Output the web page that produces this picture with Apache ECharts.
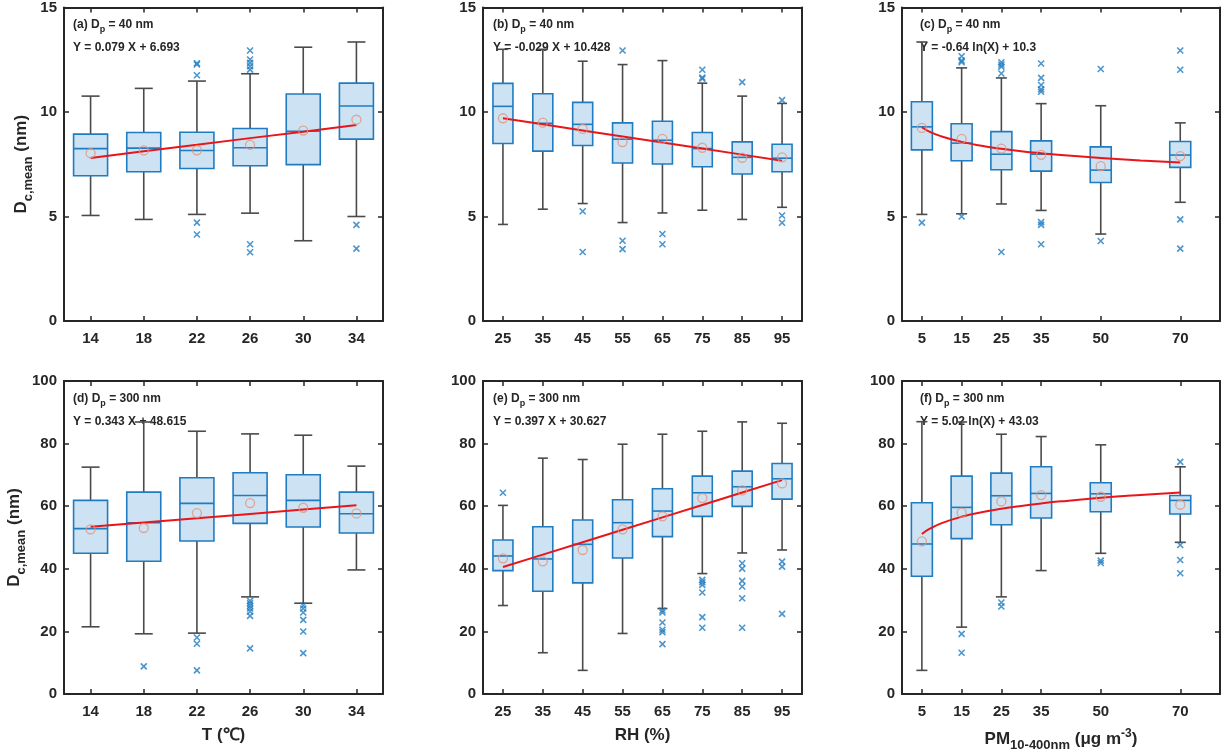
<!DOCTYPE html>
<html>
<head>
<meta charset="utf-8">
<script src="https://cdn.jsdelivr.net/npm/echarts@6/dist/echarts.min.js"></script>
<style>
html,body{margin:0;padding:0;background:#fff;}
#chart{width:1225px;height:756px;}
</style>
</head>
<body>
<div id="chart"></div>
<script>
// ---------- DATA ----------
const xT = [14, 18, 22, 26, 30, 34];
const xRH = [25, 35, 45, 55, 65, 75, 85, 95];
const xPM = [5, 15, 25, 35, 50, 70];
const fitPMx = [5, 7, 10, 15, 20, 25, 30, 35, 40, 50, 60, 70];

// (a) Dp = 40 nm vs T
const a_low  = [5.05, 4.86, 5.10, 5.16, 3.84, 5.00];
const a_q1   = [6.95, 7.14, 7.30, 7.43, 7.48, 8.70];
const a_med  = [8.25, 8.27, 8.16, 8.29, 9.08, 10.29];
const a_q3   = [8.94, 9.02, 9.03, 9.21, 10.86, 11.38];
const a_high = [10.76, 11.13, 11.48, 11.83, 13.10, 13.35];
const a_mean = [8.03, 8.16, 8.17, 8.43, 9.11, 9.63];
const a_out  = [[], [], [12.33, 12.27, 11.76, 4.71, 4.14], [12.94, 12.51, 12.35, 12.19, 12.03, 3.67, 3.29], [], [4.60, 3.46]];
const a_fit  = [7.80, 8.12, 8.43, 8.75, 9.06, 9.38];

// (b) Dp = 40 nm vs RH
const b_low  = [4.62, 5.35, 5.62, 4.71, 5.17, 5.30, 4.86, 5.44];
const b_q1   = [8.49, 8.13, 8.40, 7.56, 7.51, 7.38, 7.03, 7.14];
const b_med  = [10.27, 9.46, 9.41, 8.70, 8.65, 8.25, 7.83, 7.79];
const b_q3   = [11.37, 10.87, 10.46, 9.48, 9.56, 9.02, 8.57, 8.46];
const b_high = [13.00, 13.00, 12.43, 12.27, 12.46, 11.38, 10.76, 10.41];
const b_mean = [9.70, 9.49, 9.19, 8.56, 8.71, 8.29, 7.81, 7.83];
const b_out  = [[], [], [5.25, 3.30], [12.94, 3.84, 3.44], [4.16, 3.67], [12.02, 11.65, 11.59], [11.43], [10.57, 5.05, 4.70]];
const b_fit  = [9.70, 9.41, 9.12, 8.83, 8.54, 8.25, 7.96, 7.67];

// (c) Dp = 40 nm vs PM
const c_low  = [5.10, 5.13, 5.60, 5.29, 4.16, 5.68];
const c_q1   = [8.19, 7.67, 7.24, 7.17, 6.63, 7.35];
const c_med  = [9.29, 8.51, 7.98, 7.98, 7.22, 7.94];
const c_q3   = [10.49, 9.44, 9.06, 8.62, 8.33, 8.59];
const c_high = [13.35, 12.11, 11.63, 10.40, 10.30, 9.48];
const c_mean = [9.24, 8.71, 8.25, 7.95, 7.41, 7.89];
const c_out  = [[4.71], [12.67, 12.46, 12.38, 5.00], [12.38, 12.27, 12.17, 11.84, 3.30], [12.32, 11.63, 11.29, 11.08, 10.97, 4.73, 4.60, 3.67], [12.06, 3.83], [12.94, 12.02, 4.86, 3.46]];
const c_fit  = [9.27, 9.05, 8.83, 8.57, 8.38, 8.24, 8.12, 8.03, 7.94, 7.80, 7.68, 7.58];

// (d) Dp = 300 nm vs T
const d_low  = [21.47, 19.23, 19.45, 31.03, 29.01, 39.64];
const d_q1   = [44.95, 42.40, 48.88, 54.52, 53.35, 51.43];
const d_med  = [52.82, 54.73, 60.89, 63.44, 61.85, 57.60];
const d_q3   = [61.85, 64.51, 69.08, 70.67, 70.03, 64.51];
const d_high = [72.48, 86.90, 83.95, 83.10, 82.68, 72.80];
const d_mean = [52.60, 53.03, 57.81, 61.00, 59.51, 57.70];
const d_out  = [[], [8.82], [18.07, 16.05, 7.55], [29.76, 29.00, 28.16, 27.31, 26.35, 24.97, 14.56], [28.27, 27.31, 26.04, 23.70, 19.98, 13.07], []];
const d_fit  = [53.42, 54.79, 56.16, 57.53, 58.91, 60.28];

// (e) Dp = 300 nm vs RH
const e_low  = [28.27, 13.18, 7.55, 19.34, 27.31, 38.47, 45.06, 46.01];
const e_q1   = [39.43, 32.84, 35.49, 43.46, 50.27, 56.75, 59.94, 62.27];
const e_med  = [44.10, 43.15, 47.82, 54.73, 58.45, 64.29, 66.21, 68.76];
const e_q3   = [49.20, 53.45, 55.58, 62.06, 65.57, 69.61, 71.20, 73.64];
const e_high = [60.26, 75.35, 74.92, 79.81, 83.00, 83.95, 86.93, 86.50];
const e_mean = [43.36, 42.40, 46.01, 52.60, 56.75, 62.59, 65.04, 67.27];
const e_out  = [[64.29], [], [], [], [26.67, 26.04, 22.85, 20.51, 19.77, 15.94], [36.45, 35.71, 34.86, 32.41, 24.55, 21.15], [41.76, 40.06, 36.13, 34.33, 30.61, 21.15], [42.30, 40.70, 25.61]];
const e_fit  = [40.55, 44.52, 48.49, 52.46, 56.43, 60.40, 64.37, 68.34];

// (f) Dp = 300 nm vs PM
const f_low  = [7.55, 21.36, 31.03, 39.43, 44.95, 48.46];
const f_q1   = [37.62, 49.63, 54.09, 56.22, 58.24, 57.49];
const f_med  = [47.93, 59.62, 63.34, 64.08, 63.97, 61.85];
const f_q3   = [61.10, 69.61, 70.56, 72.58, 67.48, 63.44];
const f_high = [87.00, 86.90, 83.00, 82.25, 79.60, 72.58];
const f_mean = [48.78, 57.92, 61.53, 63.55, 63.02, 60.47];
const f_out  = [[], [19.23, 13.18], [29.22, 27.95], [], [42.61, 41.87], [74.18, 47.61, 42.83, 38.58]];
const f_fit  = [51.11, 52.80, 54.59, 56.62, 58.07, 59.19, 60.10, 60.88, 61.55, 62.67, 63.58, 64.36];

const panelLetters = ['(a)', '(b)', '(c)', '(d)', '(e)', '(f)'];
const panelDp = ['40 nm', '40 nm', '40 nm', '300 nm', '300 nm', '300 nm'];
const panelEq = ['Y = 0.079 X + 6.693', 'Y = -0.029 X + 10.428', 'Y = -0.64 ln(X) + 10.3',
                 'Y = 0.343 X + 48.615', 'Y = 0.397 X + 30.627', 'Y = 5.02 ln(X) + 43.03'];

// ---------- LAYOUT / STYLE ----------
const FONT = "'Liberation Sans', Arial, Helvetica, sans-serif";
const INK = '#262626';
const grids = [
  {left: 64, top: 6, width: 319, height: 315},
  {left: 483, top: 6, width: 319, height: 315},
  {left: 902, top: 6, width: 318, height: 315},
  {left: 64, top: 381, width: 319, height: 313},
  {left: 483, top: 381, width: 319, height: 313},
  {left: 902, top: 381, width: 318, height: 313}
];
const xRanges = [[12, 36], [20, 100], [0, 80], [12, 36], [20, 100], [0, 80]];
const boxPx = [34, 20, 21, 34, 20, 21];
const capPx = [18, 10, 11, 18, 10, 11];
const textOffX = [9, 10, 18, 9, 10, 18];
const yNameGap = [29, 0, 0, 36, 0, 0];

const panels = [
  {x: xT,  low: a_low, q1: a_q1, med: a_med, q3: a_q3, high: a_high, mean: a_mean, out: a_out, fx: xT,  fit: a_fit, ymax: 15,  yint: 5},
  {x: xRH, low: b_low, q1: b_q1, med: b_med, q3: b_q3, high: b_high, mean: b_mean, out: b_out, fx: xRH, fit: b_fit, ymax: 15,  yint: 5},
  {x: xPM, low: c_low, q1: c_q1, med: c_med, q3: c_q3, high: c_high, mean: c_mean, out: c_out, fx: fitPMx, fit: c_fit, ymax: 15, yint: 5, smooth: true},
  {x: xT,  low: d_low, q1: d_q1, med: d_med, q3: d_q3, high: d_high, mean: d_mean, out: d_out, fx: xT,  fit: d_fit, ymax: 100, yint: 20},
  {x: xRH, low: e_low, q1: e_q1, med: e_med, q3: e_q3, high: e_high, mean: e_mean, out: e_out, fx: xRH, fit: e_fit, ymax: 100, yint: 20},
  {x: xPM, low: f_low, q1: f_q1, med: f_med, q3: f_q3, high: f_high, mean: f_mean, out: f_out, fx: fitPMx, fit: f_fit, ymax: 100, yint: 20, smooth: true}
];

const xNames = [null, null, null, 'T (℃)', 'RH (%)', 'PM{sub|10-400nm} (μg m{sup|-3})'];

const xAxis = [], yAxis = [], series = [], graphic = [];

panels.forEach((p, i) => {
  const g = grids[i];
  const lineStyle = {color: INK, width: 2};
  xAxis.push({
    type: 'value', gridIndex: i, position: 'bottom', min: xRanges[i][0], max: xRanges[i][1],
    axisLine: {show: true, onZero: false, lineStyle},
    axisTick: {show: true, inside: true, length: 5, customValues: p.x, lineStyle: {color: INK, width: 1.5}},
    axisLabel: {show: true, customValues: p.x, margin: 10, color: INK, fontSize: 15, fontWeight: 'bold', fontFamily: FONT},
    splitLine: {show: false},
    name: xNames[i] || '', nameLocation: 'middle', nameGap: 33,
    nameTextStyle: {color: INK, fontSize: 17, fontWeight: 'bold', fontFamily: FONT,
      rich: {
        sub: {fontSize: 13, fontWeight: 'bold', fontFamily: FONT, color: INK, padding: [12, 0, 0, 0]},
        sup: {fontSize: 12, fontWeight: 'bold', fontFamily: FONT, color: INK, padding: [0, 0, 12, 0]}
      }}
  });
  xAxis.push({
    type: 'value', gridIndex: i, position: 'top', min: xRanges[i][0], max: xRanges[i][1],
    axisLine: {show: true, onZero: false, lineStyle},
    axisTick: {show: true, inside: true, length: 5, customValues: p.x, lineStyle: {color: INK, width: 1.5}},
    axisLabel: {show: false}, splitLine: {show: false}
  });
  const isLeftCol = (i === 0 || i === 3);
  yAxis.push({
    type: 'value', gridIndex: i, position: 'left', min: 0, max: p.ymax, interval: p.yint,
    axisLine: {show: true, onZero: false, lineStyle},
    axisTick: {show: true, inside: true, length: 5, lineStyle: {color: INK, width: 1.5}},
    axisLabel: {show: true, margin: 7, color: INK, fontSize: 15, fontWeight: 'bold', fontFamily: FONT},
    splitLine: {show: false},
    name: isLeftCol ? 'D{sub|c,mean} (nm)' : '', nameLocation: 'middle', nameGap: yNameGap[i],
    nameTextStyle: {color: INK, fontSize: 17, fontWeight: 'bold', fontFamily: FONT,
      rich: {sub: {fontSize: 13, fontWeight: 'bold', fontFamily: FONT, color: INK, padding: [14, 0, 0, 0]}}}
  });
  yAxis.push({
    type: 'value', gridIndex: i, position: 'right', min: 0, max: p.ymax, interval: p.yint,
    axisLine: {show: true, onZero: false, lineStyle},
    axisTick: {show: true, inside: true, length: 5, lineStyle: {color: INK, width: 1.5}},
    axisLabel: {show: false}, splitLine: {show: false}
  });

  const boxData = p.x.map((xv, k) => [xv, p.low[k], p.q1[k], p.med[k], p.q3[k], p.high[k]]);
  const bw = boxPx[i], cw = capPx[i];
  series.push({
    type: 'custom', xAxisIndex: i * 2, yAxisIndex: i * 2, z: 2,
    data: boxData, encode: {x: 0, y: [1, 2, 3, 4, 5]},
    renderItem: function (params, api) {
      const xv = api.value(0);
      const pLow = api.coord([xv, api.value(1)]);
      const pQ1 = api.coord([xv, api.value(2)]);
      const pMed = api.coord([xv, api.value(3)]);
      const pQ3 = api.coord([xv, api.value(4)]);
      const pHigh = api.coord([xv, api.value(5)]);
      const cx = pLow[0];
      const wStyle = {stroke: '#4a4a4a', lineWidth: 1.6};
      const bStyle = {stroke: '#1f7cc1', lineWidth: 1.6};
      return {
        type: 'group',
        children: [
          {type: 'line', shape: {x1: cx, y1: pLow[1], x2: cx, y2: pQ1[1]}, style: wStyle},
          {type: 'line', shape: {x1: cx, y1: pQ3[1], x2: cx, y2: pHigh[1]}, style: wStyle},
          {type: 'line', shape: {x1: cx - cw / 2, y1: pLow[1], x2: cx + cw / 2, y2: pLow[1]}, style: wStyle},
          {type: 'line', shape: {x1: cx - cw / 2, y1: pHigh[1], x2: cx + cw / 2, y2: pHigh[1]}, style: wStyle},
          {type: 'rect', shape: {x: cx - bw / 2, y: pQ3[1], width: bw, height: pQ1[1] - pQ3[1]},
            style: {fill: '#cde3f3', stroke: '#1f7cc1', lineWidth: 1.6}},
          {type: 'line', shape: {x1: cx - bw / 2, y1: pMed[1], x2: cx + bw / 2, y2: pMed[1]}, style: bStyle}
        ]
      };
    }
  });
  series.push({
    type: 'line', xAxisIndex: i * 2, yAxisIndex: i * 2, z: 4,
    data: p.fx.map((xv, k) => [xv, p.fit[k]]), smooth: !!p.smooth, showSymbol: false, symbol: 'none',
    lineStyle: {color: '#e8161b', width: 2}
  });
  series.push({
    type: 'scatter', xAxisIndex: i * 2, yAxisIndex: i * 2, z: 5,
    data: p.x.map((xv, k) => [xv, p.mean[k]]), symbol: 'circle', symbolSize: 9,
    itemStyle: {color: 'rgba(0,0,0,0)', borderColor: '#e3937a', borderWidth: 1.3}
  });
  const outData = [];
  p.out.forEach((arr, k) => arr.forEach(v => outData.push([p.x[k], v])));
  series.push({
    type: 'scatter', xAxisIndex: i * 2, yAxisIndex: i * 2, z: 5,
    data: outData, symbol: 'path://M0,0L10,10M10,0L0,10', symbolSize: 6,
    itemStyle: {color: 'rgba(0,0,0,0)', borderColor: '#1f7cc1', borderWidth: 1.6}
  });

  const row2 = i >= 3;
  graphic.push({
    type: 'text', z: 1, left: g.left + textOffX[i], top: g.top + (row2 ? 12 : 13),
    style: {text: panelLetters[i] + ' D{s|p} = ' + panelDp[i], fill: INK, font: 'bold 12px ' + FONT,
      rich: {s: {fontSize: 9, fontWeight: 'bold', fontFamily: FONT, fill: INK, padding: [9, 0, 0, 0]}}}
  });
  graphic.push({
    type: 'text', z: 1, left: g.left + textOffX[i], top: g.top + (row2 ? 35 : 36),
    style: {text: panelEq[i], fill: INK, font: 'bold 12px ' + FONT}
  });
});

const chart = echarts.init(document.getElementById('chart'));
chart.setOption({
  backgroundColor: '#ffffff',
  animation: false,
  textStyle: {fontFamily: FONT},
  grid: grids,
  xAxis, yAxis, series, graphic
});
</script>
</body>
</html>
